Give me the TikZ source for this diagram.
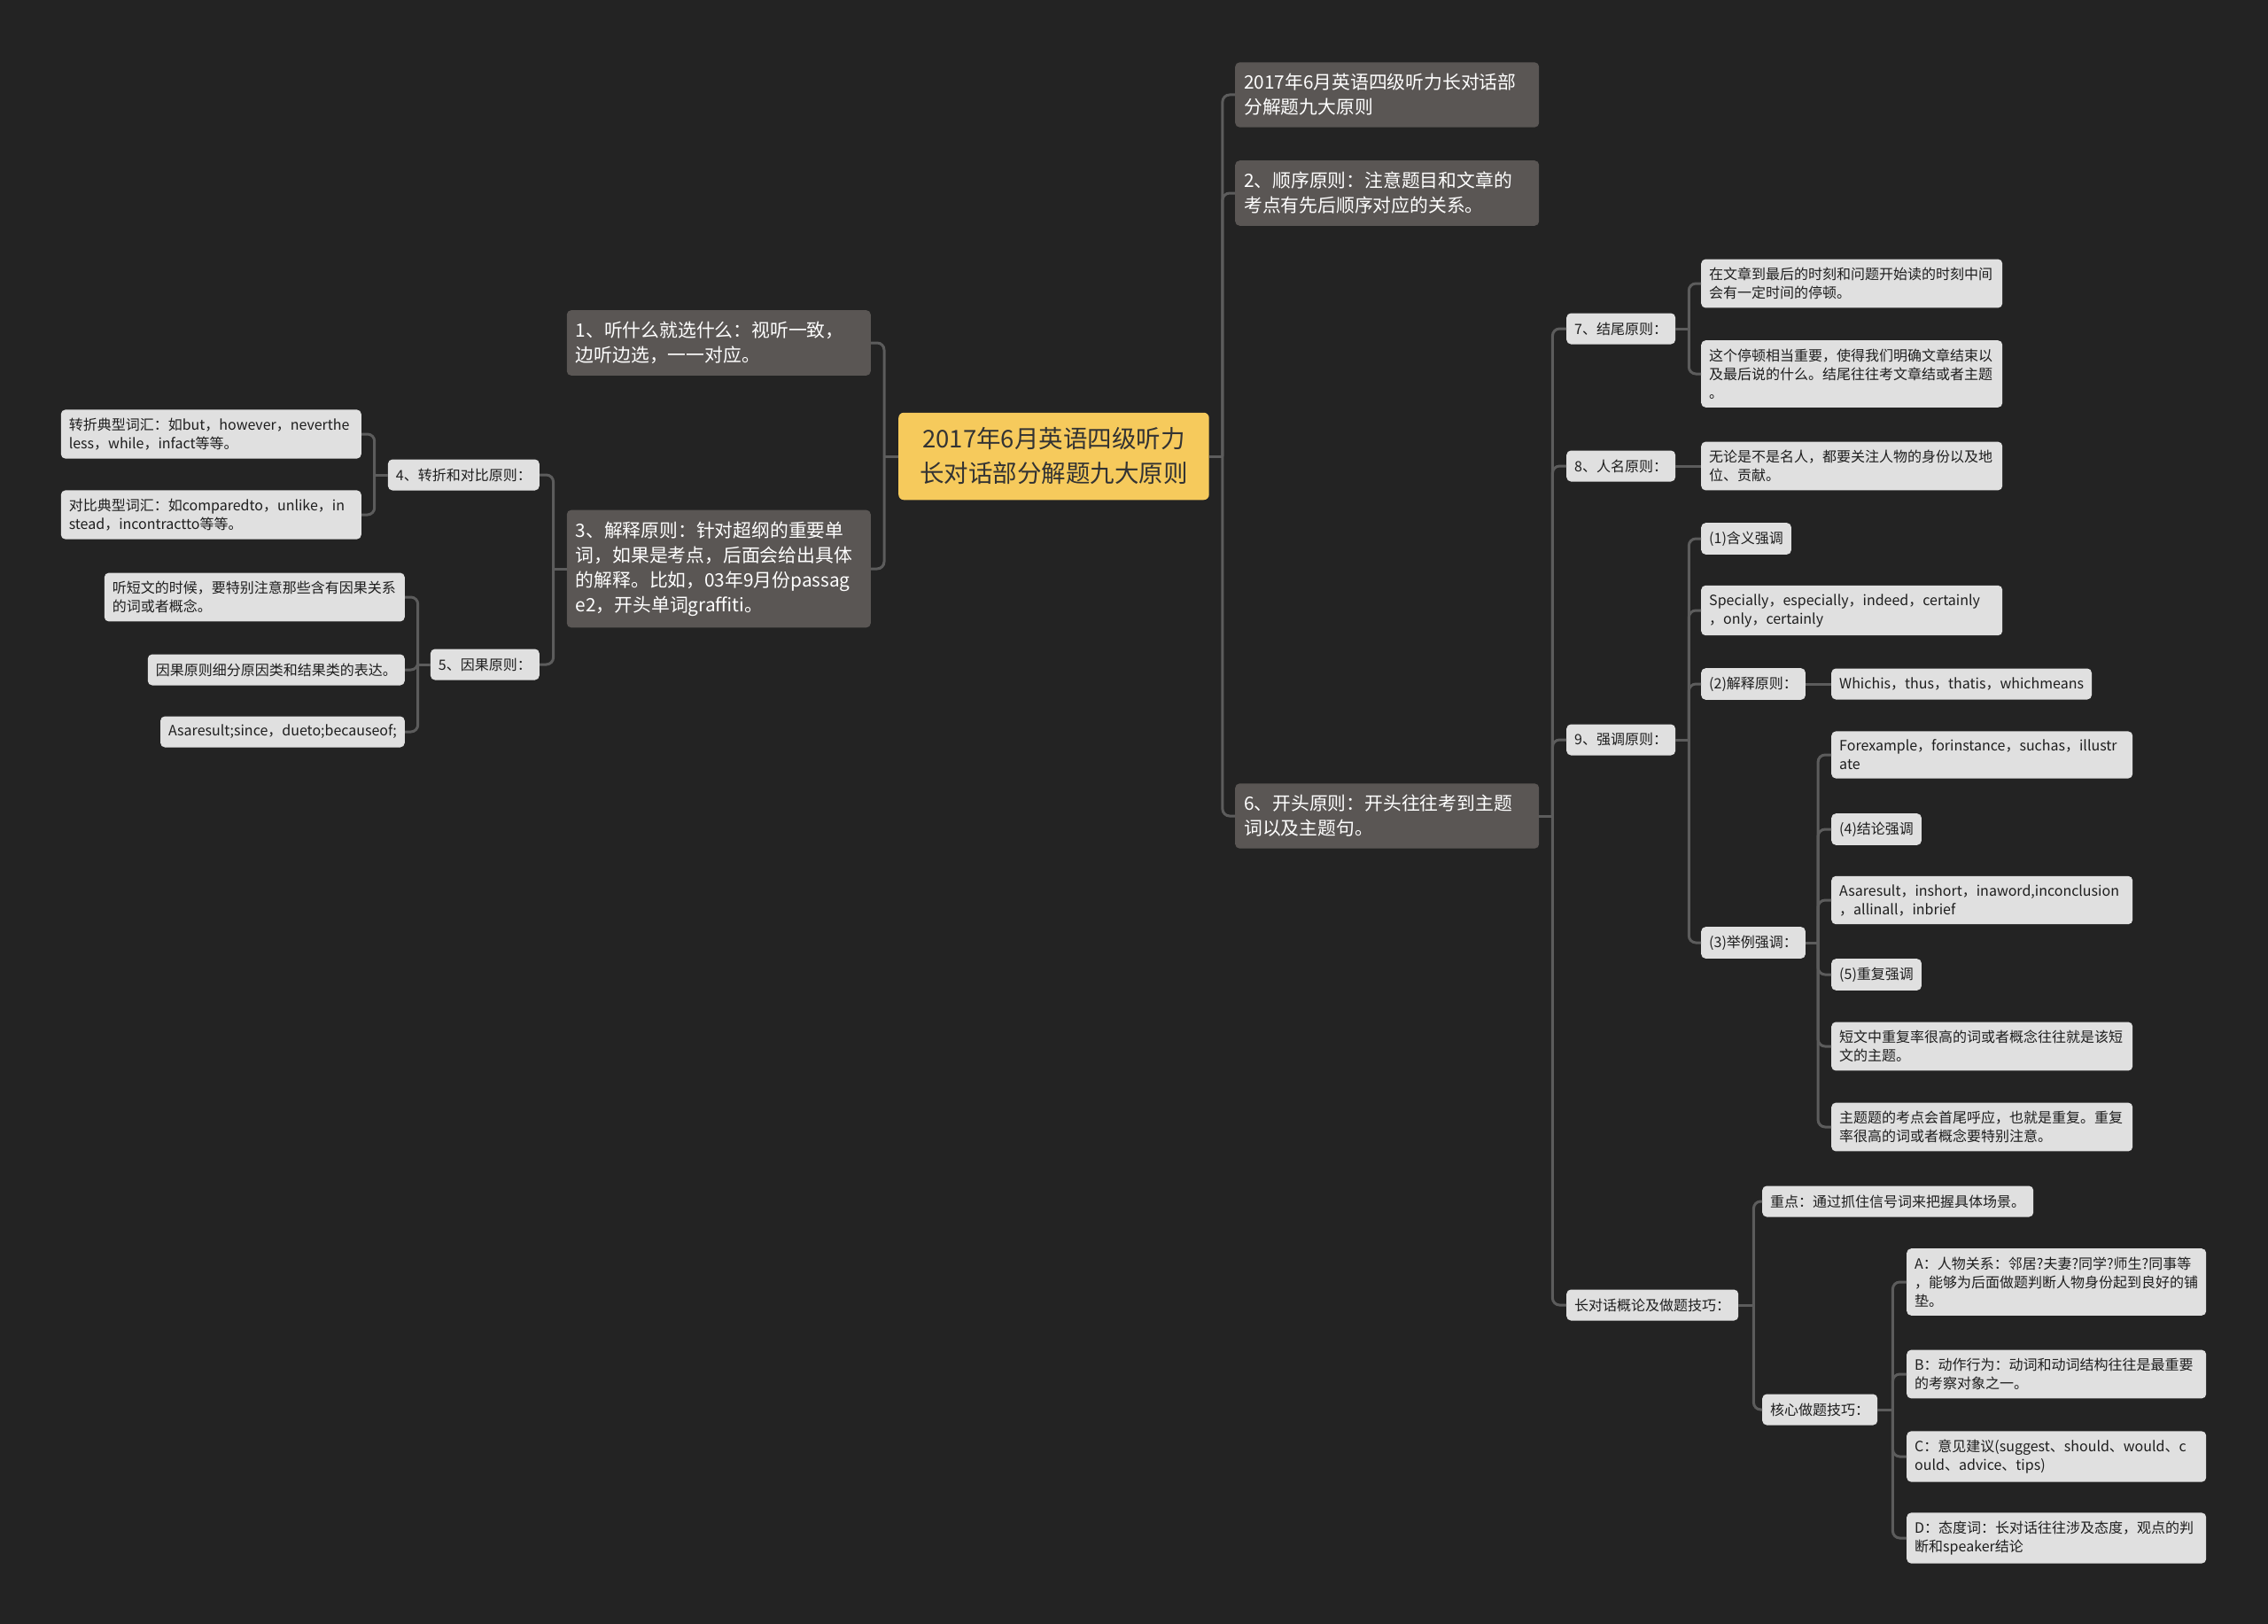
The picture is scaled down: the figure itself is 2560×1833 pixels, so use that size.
\documentclass[tikz,border=0pt]{standalone}
\usepackage{fontspec}
\setmainfont{Noto Sans CJK SC}
\usepackage{xcolor}
\usepackage{tikz}
\definecolor{bgdark}{HTML}{232323}
\definecolor{linkgray}{HTML}{5C5C5C}
\definecolor{topicgray}{HTML}{5A5654}
\definecolor{leafgray}{HTML}{E0E0E0}
\definecolor{leaftext}{HTML}{1E1E1E}
\definecolor{rootyellow}{HTML}{F6CA5C}
\definecolor{roottext}{HTML}{333333}
\newcommand{\leafsize}{\fontsize{16pt}{21pt}\selectfont}
\newcommand{\topicsize}{\fontsize{20.8pt}{28pt}\selectfont}
\newcommand{\rootsize}{\fontsize{27.5pt}{39pt}\selectfont}

\begin{document}
\begin{tikzpicture}[x=1pt,y=-1pt,
  link/.style={draw=linkgray,line width=3pt,rounded corners=8pt},
  leaf/.style={fill=leafgray,text=leaftext,rounded corners=5pt,font=\leafsize,align=left,
    inner xsep=9pt,inner ysep=9.5pt,minimum height=35pt},
  topic/.style={fill=topicgray,text=white,rounded corners=5pt,font=\topicsize,align=left,
    inner xsep=10pt,inner ysep=13pt,text width=323pt},
  rootbox/.style={fill=rootyellow,text=roottext,rounded corners=6pt,font=\rootsize,align=center,
    inner xsep=24pt,inner ysep=17pt,minimum width=350pt}]
  \useasboundingbox (0,0) rectangle (2560,1833);
  \fill[bgdark] (0,0) rectangle (2560,1833);
  % centre
  \node[rootbox,anchor=west] (root) at (1014,515) {2017年6月英语四级听力\\长对话部分解题九大原则};
  % right side
  \node[topic,anchor=west] (r1) at (1394,107) {2017年6月英语四级听力长对话部\\分解题九大原则};
  \node[topic,anchor=west] (r2) at (1394,218) {2、顺序原则：注意题目和文章的\\考点有先后顺序对应的关系。};
  \node[topic,anchor=west] (r6) at (1394,921) {6、开头原则：开头往往考到主题\\词以及主题句。};
  % left side
  \node[topic,anchor=east] (l1) at (983,387) {1、听什么就选什么：视听一致，\\边听边选，一一对应。};
  \node[topic,anchor=east] (l3) at (983,642) {3、解释原则：针对超纲的重要单\\词，如果是考点，后面会给出具体\\的解释。比如，03年9月份passag\\e2，开头单词graffiti。};
  \node[leaf,anchor=east] (l4) at (609,536) {4、转折和对比原则：};
  \node[leaf,anchor=east,text width=321pt] (l4a) at (408,490) {转折典型词汇：如but，however，neverthe\\less，while，infact等等。};
  \node[leaf,anchor=east,text width=321pt] (l4b) at (408,581) {对比典型词汇：如comparedto，unlike，in\\stead，incontractto等等。};
  \node[leaf,anchor=east] (l5) at (609,750) {5、因果原则：};
  \node[leaf,anchor=east,text width=321pt] (l5a) at (457,674) {听短文的时候，要特别注意那些含有因果关系\\的词或者概念。};
  \node[leaf,anchor=east] (l5b) at (457,756) {因果原则细分原因类和结果类的表达。};
  \node[leaf,anchor=east] (l5c) at (457,826) {Asaresult;since，dueto;becauseof;};
  % 6 -> 7, 8, 9
  \node[leaf,anchor=west] (n7) at (1768,371) {7、结尾原则：};
  \node[leaf,anchor=west,text width=322pt] (n7a) at (1920,320) {在文章到最后的时刻和问题开始读的时刻中间\\会有一定时间的停顿。};
  \node[leaf,anchor=west,text width=322pt] (n7b) at (1920,422) {这个停顿相当重要，使得我们明确文章结束以\\及最后说的什么。结尾往往考文章结或者主题\\。};
  \node[leaf,anchor=west] (n8) at (1768,526) {8、人名原则：};
  \node[leaf,anchor=west,text width=322pt] (n8a) at (1920,526) {无论是不是名人，都要关注人物的身份以及地\\位、贡献。};
  \node[leaf,anchor=west] (n9) at (1768,835) {9、强调原则：};
  \node[leaf,anchor=west] (n9a) at (1920,608) {(1)含义强调};
  \node[leaf,anchor=west,text width=322pt] (n9b) at (1920,689) {Specially，especially，indeed，certainly\\，only，certainly};
  \node[leaf,anchor=west] (n9c) at (1920,772) {(2)解释原则：};
  \node[leaf,anchor=west] (n9c1) at (2067,772) {Whichis，thus，thatis，whichmeans};
  \node[leaf,anchor=west] (n9d) at (1920,1064) {(3)举例强调：};
  \node[leaf,anchor=west,text width=322pt] (n9d1) at (2067,852) {Forexample，forinstance，suchas，illustr\\ate};
  \node[leaf,anchor=west] (n9d2) at (2067,936) {(4)结论强调};
  \node[leaf,anchor=west,text width=322pt] (n9d3) at (2067,1016) {Asaresult，inshort，inaword,inconclusion\\，allinall，inbrief};
  \node[leaf,anchor=west] (n9d4) at (2067,1100) {(5)重复强调};
  \node[leaf,anchor=west,text width=322pt] (n9d5) at (2067,1181) {短文中重复率很高的词或者概念往往就是该短\\文的主题。};
  \node[leaf,anchor=west,text width=322pt] (n9d6) at (2067,1272) {主题题的考点会首尾呼应，也就是重复。重复\\率很高的词或者概念要特别注意。};
  \node[leaf,anchor=west] (n10) at (1768,1473) {长对话概论及做题技巧：};
  \node[leaf,anchor=west] (n10a) at (1989,1356) {重点：通过抓住信号词来把握具体场景。};
  \node[leaf,anchor=west] (n10b) at (1989,1591) {核心做题技巧：};
  \node[leaf,anchor=west,text width=320pt] (tipa) at (2152,1447) {A：人物关系：邻居?夫妻?同学?师生?同事等\\，能够为后面做题判断人物身份起到良好的铺\\垫。};
  \node[leaf,anchor=west,text width=320pt] (tipb) at (2152,1551) {B：动作行为：动词和动词结构往往是最重要\\的考察对象之一。};
  \node[leaf,anchor=west,text width=320pt] (tipc) at (2152,1644) {C：意见建议(suggest、should、would、c\\ould、advice、tips)};
  \node[leaf,anchor=west,text width=320pt] (tipd) at (2152,1736) {D：态度词：长对话往往涉及态度，观点的判\\断和speaker结论};
  % junctions
  \coordinate (jr) at ([xshift=15pt]root.east);
  \coordinate (jl) at ([xshift=-16pt]root.west);
  \coordinate (j6) at ([xshift=15pt]r6.east);
  \coordinate (j7) at ([xshift=15pt]n7.east);
  \coordinate (j9) at ([xshift=15pt]n9.east);
  \coordinate (j9d) at ([xshift=14pt]n9d.east);
  \coordinate (j10) at ([xshift=17pt]n10.east);
  \coordinate (j10b) at ([xshift=17pt]n10b.east);
  \coordinate (jl3) at ([xshift=-15pt]l3.west);
  \coordinate (jl4) at ([xshift=-15pt]l4.west);
  \coordinate (jl5) at ([xshift=-14pt]l5.west);
  % connectors
  \draw[link] (root.east) -- (jr);
  \foreach \c in {r1,r2,r6} \draw[link] (jr) |- (\c.west);
  \draw[link] (root.west) -- (jl);
  \foreach \c in {l1,l3} \draw[link] (jl) |- (\c.east);
  \draw[link] (l3.west) -- (jl3);
  \foreach \c in {l4,l5} \draw[link] (jl3) |- (\c.east);
  \draw[link] (l4.west) -- (jl4);
  \foreach \c in {l4a,l4b} \draw[link] (jl4) |- (\c.east);
  \draw[link] (l5.west) -- (jl5);
  \foreach \c in {l5a,l5b,l5c} \draw[link] (jl5) |- (\c.east);
  \draw[link] (r6.east) -- (j6);
  \foreach \c in {n7,n8,n9,n10} \draw[link] (j6) |- (\c.west);
  \draw[link] (n7.east) -- (j7);
  \foreach \c in {n7a,n7b} \draw[link] (j7) |- (\c.west);
  \draw[link] (n8.east) -- (n8a.west);
  \draw[link] (n9.east) -- (j9);
  \foreach \c in {n9a,n9b,n9c,n9d} \draw[link] (j9) |- (\c.west);
  \draw[link] (n9c.east) -- (n9c1.west);
  \draw[link] (n9d.east) -- (j9d);
  \foreach \c in {n9d1,n9d2,n9d3,n9d4,n9d5,n9d6} \draw[link] (j9d) |- (\c.west);
  \draw[link] (n10.east) -- (j10);
  \foreach \c in {n10a,n10b} \draw[link] (j10) |- (\c.west);
  \draw[link] (n10b.east) -- (j10b);
  \foreach \c in {tipa,tipb,tipc,tipd} \draw[link] (j10b) |- (\c.west);
\end{tikzpicture}
\end{document}
